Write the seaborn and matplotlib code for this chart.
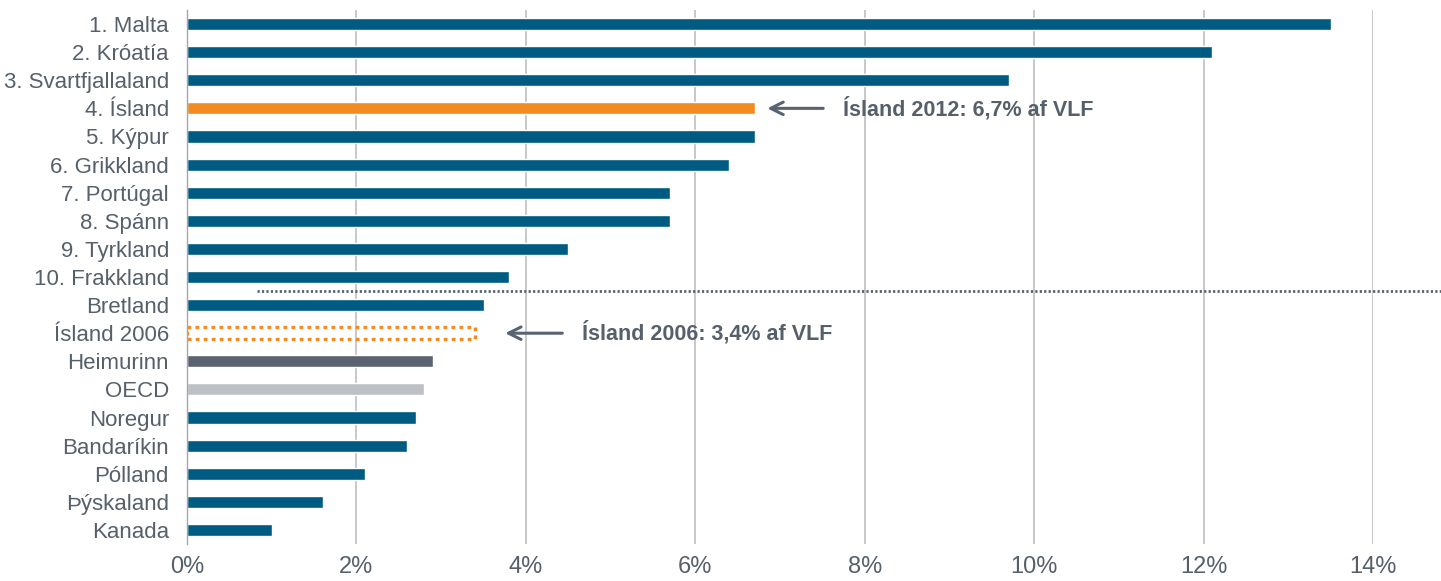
import numpy as np
import pandas as pd
import matplotlib
matplotlib.use("Agg")
import matplotlib.pyplot as plt
import seaborn as sns

labels = ["1. Malta", "2. Króatía", "3. Svartfjallaland", "4. Ísland", "5. Kýpur",
          "6. Grikkland", "7. Portúgal", "8. Spánn", "9. Tyrkland", "10. Frakkland",
          "Bretland", "Ísland 2006", "Heimurinn", "OECD", "Noregur", "Bandaríkin",
          "Pólland", "Þýskaland", "Kanada"]
values = [13.5, 12.1, 9.7, 6.7, 6.7, 6.4, 5.7, 5.7, 4.5, 3.8,
          3.5, 3.4, 2.9, 2.8, 2.7, 2.6, 2.1, 1.6, 1.0]

blue = "#005B82"
orange = "#F28C21"
dark = "#5A6370"
light = "#BDC1C6"
txt = "#56606B"

colors = [blue] * len(labels)
colors[3] = orange
colors[11] = orange
colors[12] = dark
colors[13] = light

df = pd.DataFrame({"land": labels, "hlutfall": values})

sns.set_style("white")
plt.rcParams["font.family"] = ["Liberation Sans", "DejaVu Sans"]

fig = plt.figure(figsize=(14.41, 5.81), dpi=100)
ax = fig.add_axes([0.1298, 0.0637, 0.8230, 0.9191])

sns.barplot(data=df, x="hlutfall", y="land", hue="land", palette=colors,
            legend=False, width=0.43, saturation=1, ax=ax)

# Ísland 2006: dotted outline only
p = ax.patches[11]
p.set_facecolor("none")
p.set_edgecolor(orange)
p.set_linewidth(2.4)
p.set_linestyle((0, (1.1, 1.3)))

ax.set_xlim(0, 14)
ax.set_ylim(18.5, -0.5)
ax.set_xticks(np.arange(0, 15, 2))
ax.set_xticklabels([f"{v}%" for v in range(0, 15, 2)])
ax.xaxis.grid(True, color="#BFBFBF", linewidth=1.2)
ax.set_axisbelow(True)
ax.set_xlabel("")
ax.set_ylabel("")

for s in ["top", "right", "bottom"]:
    ax.spines[s].set_visible(False)
ax.spines["left"].set_color("#A6A6A6")
ax.spines["left"].set_linewidth(1.0)

ax.set_yticks(np.arange(-0.5, 19, 1), minor=True)
ax.tick_params(axis="y", which="major", length=0, pad=13, labelsize=16, labelcolor=txt)
ax.tick_params(axis="y", which="minor", length=5, color="#A6A6A6", direction="out")
ax.tick_params(axis="x", length=0, pad=9, labelsize=17, labelcolor=txt)

# separator line between top 10 and the rest
ax.plot([0.83, 15.05], [9.5, 9.5], color=dark, linewidth=2, linestyle=(0, (0.8, 0.8)),
        clip_on=False, zorder=3)

# annotations
arrow = dict(arrowstyle="->,head_length=0.9,head_width=0.45", color=dark, lw=2.2,
             shrinkA=0, shrinkB=0)
ax.annotate("", xy=(6.85, 3), xytext=(7.51, 3), arrowprops=arrow)
ax.text(7.745, 3, "Ísland 2012: 6,7% af VLF", va="center", ha="left",
        fontsize=15.5, fontweight="bold", color=txt)
ax.annotate("", xy=(3.755, 11), xytext=(4.43, 11), arrowprops=arrow)
ax.text(4.66, 11, "Ísland 2006: 3,4% af VLF", va="center", ha="left",
        fontsize=15.5, fontweight="bold", color=txt)

fig.savefig("out.png", dpi=100)
